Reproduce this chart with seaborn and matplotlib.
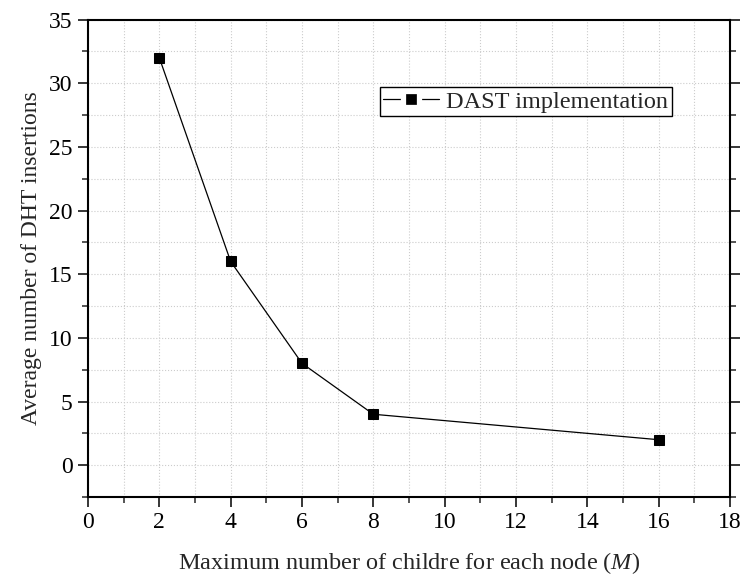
import matplotlib
matplotlib.use("Agg")
import matplotlib.pyplot as plt
from matplotlib.lines import Line2D
from matplotlib.ticker import MultipleLocator
import seaborn as sns
import pandas as pd

# Average DHT insertions per node fan-out
max_children = [2, 4, 6, 8, 16]
avg_insertions = [32, 16, 8, 4, 2]
series_label = "DAST implementation"

df = pd.DataFrame({"M": max_children, "inserts": avg_insertions})

sns.set_theme(style="white")
plt.rcParams["font.family"] = ["Liberation Serif", "DejaVu Serif"]
plt.rcParams["mathtext.fontset"] = "custom"
plt.rcParams["mathtext.it"] = "Liberation Serif:italic"
plt.rcParams["mathtext.rm"] = "Liberation Serif"

fig = plt.figure(figsize=(7.43, 5.79), dpi=100)
ax = fig.add_axes([0.1184, 0.1416, 0.8641, 0.8247])

sns.lineplot(data=df, x="M", y="inserts", ax=ax, color="black", linewidth=0.9,
             marker="s", markersize=7.2, markeredgecolor="black",
             markerfacecolor="black", legend=False)

ax.set_xlim(0, 18)
ax.set_ylim(-2.5, 35)
ax.xaxis.set_major_locator(MultipleLocator(2))
ax.xaxis.set_minor_locator(MultipleLocator(1))
ax.yaxis.set_major_locator(MultipleLocator(5))
ax.yaxis.set_minor_locator(MultipleLocator(2.5))

ax.grid(True, which="both", color="#cccccc", linestyle=":", linewidth=0.8)
ax.set_axisbelow(True)

for s in ax.spines.values():
    s.set_color("black")
    s.set_linewidth(1.5)

ax.tick_params(axis="both", which="major", direction="out", length=7, width=1.1,
               labelsize=17, colors="black", pad=4,
               right=True, left=True, bottom=True, top=False)
ax.tick_params(axis="both", which="minor", direction="out", length=4.5, width=1.1,
               right=True, left=True, bottom=True, top=False)

ax.set_xlabel(r"Maximum number of childre for each node ($\mathit{M}$)", fontsize=17.5, labelpad=12)
ax.set_ylabel("Average number of DHT insertions", fontsize=17, labelpad=5)

# legend key: short line, square marker, short line with small gaps around the marker
key = Line2D([], [], color="black", linewidth=0.9, marker="s", markersize=11,
             markerfacecolor="black", markeredgecolor="white", markeredgewidth=3.8)
leg = ax.legend([key], [series_label], loc="upper right",
                bbox_to_anchor=(0.9097, 0.8586), fontsize=17.5,
                frameon=True, fancybox=False, edgecolor="black", framealpha=1,
                borderpad=0.15, handlelength=2.3, handletextpad=0.3, borderaxespad=0)
leg.get_frame().set_linewidth(1.0)

fig.savefig("out.png", dpi=100)
